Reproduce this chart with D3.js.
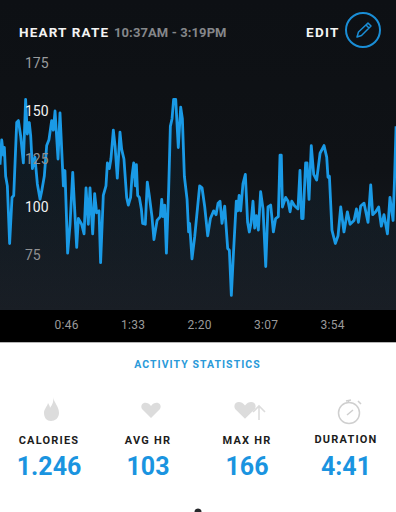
<!DOCTYPE html>
<html>
<head>
<meta charset="utf-8">
<script src="https://cdn.jsdelivr.net/npm/d3@7"></script>
<style>
html, body { margin: 0; padding: 0; background: #fff; overflow: hidden; }
svg { display: block; }
text { font-family: Roboto, "Open Sans", sans-serif; }
</style>
</head>
<body>
<div id="chart"></div>
<script>
// minutes since the start of the activity
var minutes = [0,1.2,2.4,3.1,4,5.2,6.8,8.5,9.7,11.8,13,14.6,16.5,18.1,19.3,20.7,21.7,22.9,24.7,26.4,28.3,29.4,31.3,33,34.6,36.5,37.7,38.9,41,42.4,44.8,45.9,47.8,49.5,51.4,54.2,55.4,57.7,59.4,60.8,62.4,63.6,65.5,66.9,68.3,70,71.1,73,74.9,75.9,77.3,78.4,80.1,81.3,82.9,84.8,86,87.6,89.5,90.7,92.3,
  93.3,94.5,95.7,96.4,97.3,98.5,99.9,100.8,102.7,104.1,105.5,107.4,108.8,111,113.3,114.3,115.2,116.4,117.6,119.2,120.4,121.6,122.7,124.2,126,127.7,128.9,130.3,132.2,133.3,134,135.7,137.6,141.1,142.8,144.7,146.8,148.7,151,152.7,154.1,155.5,156.9,158.8,160.9,162.1,163.5,165.1,167,168,169,170.1,171.7,173.4,175,176.2,177.4,178.8,180,181.2,182.6,184.2,185.9,
  187.8,189.4,191.3,193.2,194.8,196.7,197.9,198.8,199.6,201.9,203.6,205,206.2,208.3,210.6,212,213.2,214.2,216,217,218.4,220,221.7,223.8,226.2,229,230.9,231.8,232.8,234.6,237,238.9,240.8,243.1,245.5,247.4,250.2,251.9,253.3,254.9,257.3,260.1,262,263.4,265.5,267.6,269.5,271.4,273.8,275.6,277.8,278.9,279.9];
var heartRate = [122,135,127,131,116,111,81,105,106,144,145,137,123,156,138,144,137,120,126,112,104,108,116,132,135,145,140,150,125,149,111,119,76,91,118,79,94,91,86,110,91,110,86,107,97,98,71,106,111,123,120,125,140,132,115,139,130,125,105,101,105,
  116,123,111,122,106,105,99,91.5,91,113,106,95,83,93,95,104,95,101,76,109,142,146,156,156,131,152,146,116,104,87,91.5,73,84.5,111,110,100,85,94,98,96,102,103,91.5,100.5,78.4,77.5,54,77.5,103,98,106,98,112,117,92,87,91.5,103,89,95.5,88,108,99,
  69,100,101,87,94,95,127,127,100,105,103,97.5,103,100.5,99,119,94,94,123,123,104,132,117,114,128,132,126,115.5,116,88,81,85,100,87,97.5,91,93,99,92,100.5,102,92,111.5,96,97.5,100,90,96,86,105,93,116,142];

var yTicks = [175, 150, 125, 100, 75];
var yTickColors = ["#9a9c9e", "#f2f2f2", "#8f9193", "#f2f2f2", "#8f9193"];
var xTicks = [46, 93, 140, 187, 234];
var xTickLabels = ["0:46", "1:33", "2:20", "3:07", "3:54"];

var statLabels = ["CALORIES", "AVG HR", "MAX HR", "DURATION"];
var statValues = ["1.246", "103", "166", "4:41"];

var width = 396, height = 512;
var plotBottom = 310, stripBottom = 342;
var blue = "#1a9ae6";

var svg = d3.select("#chart").append("svg")
  .attr("width", width)
  .attr("height", height);

var defs = svg.append("defs");
var bgGrad = defs.append("linearGradient").attr("id", "bg").attr("x1", 0).attr("x2", 0).attr("y1", 0).attr("y2", 1);
bgGrad.append("stop").attr("offset", "0%").attr("stop-color", "#0d1014");
bgGrad.append("stop").attr("offset", "55%").attr("stop-color", "#0f1216");
bgGrad.append("stop").attr("offset", "100%").attr("stop-color", "#191e25");

var areaGrad = defs.append("linearGradient").attr("id", "under")
  .attr("gradientUnits", "userSpaceOnUse").attr("x1", 0).attr("x2", 0).attr("y1", 100).attr("y2", plotBottom);
areaGrad.append("stop").attr("offset", "0%").attr("stop-color", "#1a9ae6").attr("stop-opacity", 0.09);
areaGrad.append("stop").attr("offset", "100%").attr("stop-color", "#1a9ae6").attr("stop-opacity", 0);

//Backgrounds
svg.append("rect").attr("width", width).attr("height", plotBottom).attr("fill", "url(#bg)");
svg.append("rect").attr("y", plotBottom).attr("width", width).attr("height", stripBottom - plotBottom).attr("fill", "#000");
svg.append("rect").attr("y", stripBottom).attr("width", width).attr("height", 1).attr("fill", "#b5b5b5");

//Scales
var x = d3.scaleLinear().domain([0, 281]).range([0, 397.6]);
var y = d3.scaleLinear().domain([75, 175]).range([255, 63]);

var points = minutes.map(function(m, i) { return [m, heartRate[i]]; });

//Area and line
svg.append("path")
  .datum(points)
  .attr("fill", "url(#under)")
  .attr("d", d3.area()
    .x(function(d) { return x(d[0]); })
    .y0(plotBottom)
    .y1(function(d) { return y(d[1]); }));

svg.append("path")
  .datum(points)
  .attr("fill", "none")
  .attr("stroke", blue)
  .attr("stroke-width", 2.8)
  .attr("stroke-linejoin", "round")
  .attr("d", d3.line()
    .x(function(d) { return x(d[0]); })
    .y(function(d) { return y(d[1]); }));

//Y axis
var yAxis = svg.append("g")
  .attr("transform", "translate(25,0)")
  .call(d3.axisRight(y).tickValues(yTicks).tickSize(0).tickPadding(0));
yAxis.select(".domain").remove();
yAxis.selectAll("text")
  .style("font-size", "14px")
  .attr("fill", function(d, i) { return yTickColors[i]; });

//X axis
var xAxis = svg.append("g")
  .attr("transform", "translate(1," + (plotBottom + 10) + ")")
  .call(d3.axisBottom(x).tickValues(xTicks)
    .tickFormat(function(d, i) { return xTickLabels[i]; })
    .tickSize(0).tickPadding(0));
xAxis.select(".domain").remove();
xAxis.selectAll("text")
  .style("font-size", "12px")
  .attr("letter-spacing", "0.3px")
  .attr("fill", "#9a9a9a");

//Header
svg.append("text").text("HEART RATE")
  .attr("x", 19).attr("y", 37)
  .attr("fill", "#f4f4f4")
  .attr("font-weight", 700).attr("font-size", 13.5).attr("letter-spacing", "1.15px");
svg.append("text").text("10:37AM - 3:19PM")
  .attr("x", 114).attr("y", 37)
  .attr("fill", "#85878a")
  .attr("font-weight", 700).attr("font-size", 13).attr("letter-spacing", "0.1px");
svg.append("text").text("EDIT")
  .attr("x", 306).attr("y", 37)
  .attr("fill", "#f4f4f4")
  .attr("font-weight", 700).attr("font-size", 13.5).attr("letter-spacing", "1.3px");
svg.append("circle")
  .attr("cx", 363).attr("cy", 30).attr("r", 17)
  .attr("fill", "none").attr("stroke", "#1a8ed6").attr("stroke-width", 2);
svg.append("path")
  .attr("d", "M357 37 L358.5 32 L368 23 L371 26 L361.5 35.5 Z M366 25 L369 28")
  .attr("fill", "none").attr("stroke", "#1a8ed6").attr("stroke-width", 1.5).attr("stroke-linejoin", "round");

//Statistics
svg.append("text").text("ACTIVITY STATISTICS")
  .attr("x", 197.5).attr("y", 368)
  .attr("text-anchor", "middle")
  .attr("fill", "#2a9ad9")
  .attr("font-weight", 700).attr("font-size", 10.5).attr("letter-spacing", "1.05px");

var statX = d3.scalePoint().domain(statLabels).range([49, 346]);

svg.selectAll(".stat-label")
  .data(statLabels)
  .enter().append("text")
  .attr("class", "stat-label")
  .attr("x", function(d) { return statX(d); })
  .attr("y", function(d) { return d == "DURATION" ? 443 : 444; })
  .attr("text-anchor", "middle")
  .attr("fill", "#1c1c1c")
  .attr("font-weight", 700).attr("font-size", 11).attr("letter-spacing", "1.2px")
  .text(function(d) { return d; });

svg.selectAll(".stat-value")
  .data(statValues)
  .enter().append("text")
  .attr("class", "stat-value")
  .attr("x", function(d, i) { return statX(statLabels[i]); })
  .attr("y", 475)
  .attr("text-anchor", "middle")
  .attr("fill", "#1a94e0")
  .attr("font-weight", 700).attr("font-size", 25)
  .text(function(d) { return d; });

//Icons
var iconGrey = "#dcdcdc";
var heart = function(cx, cy, s) {
  return "M" + cx + " " + (cy + 8 * s) +
    " L" + (cx - 9 * s) + " " + (cy - 1 * s) +
    " C" + (cx - 12 * s) + " " + (cy - 7 * s) + " " + (cx - 4 * s) + " " + (cy - 10 * s) + " " + cx + " " + (cy - 4 * s) +
    " C" + (cx + 4 * s) + " " + (cy - 10 * s) + " " + (cx + 12 * s) + " " + (cy - 7 * s) + " " + (cx + 9 * s) + " " + (cy - 1 * s) + " Z";
};
svg.append("path")
  .attr("d", "M53 397 C54 403 59 406 59 413 C59 418 55 421 51 421 C47 421 44 418 44 413 C44 409 47 407 48 403 C49 405 50 406 50 408 C52 405 54 402 53 397 Z")
  .attr("fill", iconGrey);
svg.append("path").attr("d", heart(151, 410, 1)).attr("fill", iconGrey);
svg.append("path").attr("d", heart(245, 410, 1.1)).attr("fill", iconGrey);
svg.append("path")
  .attr("d", "M259 420 L259 407 M253 412 L259 406 L265 412")
  .attr("fill", "none").attr("stroke", iconGrey).attr("stroke-width", 1.6);
svg.append("circle").attr("cx", 349).attr("cy", 413).attr("r", 10.5)
  .attr("fill", "none").attr("stroke", "#cfcfcf").attr("stroke-width", 1.5);
svg.append("path")
  .attr("d", "M346 401 L351 400 M348.5 400 L348.5 402 M358 401 L361 404 M347 415 L353 410")
  .attr("fill", "none").attr("stroke", "#cfcfcf").attr("stroke-width", 1.5);

svg.append("circle").attr("cx", 198).attr("cy", 512).attr("r", 3.5).attr("fill", "#26282b");
</script>
</body>
</html>
